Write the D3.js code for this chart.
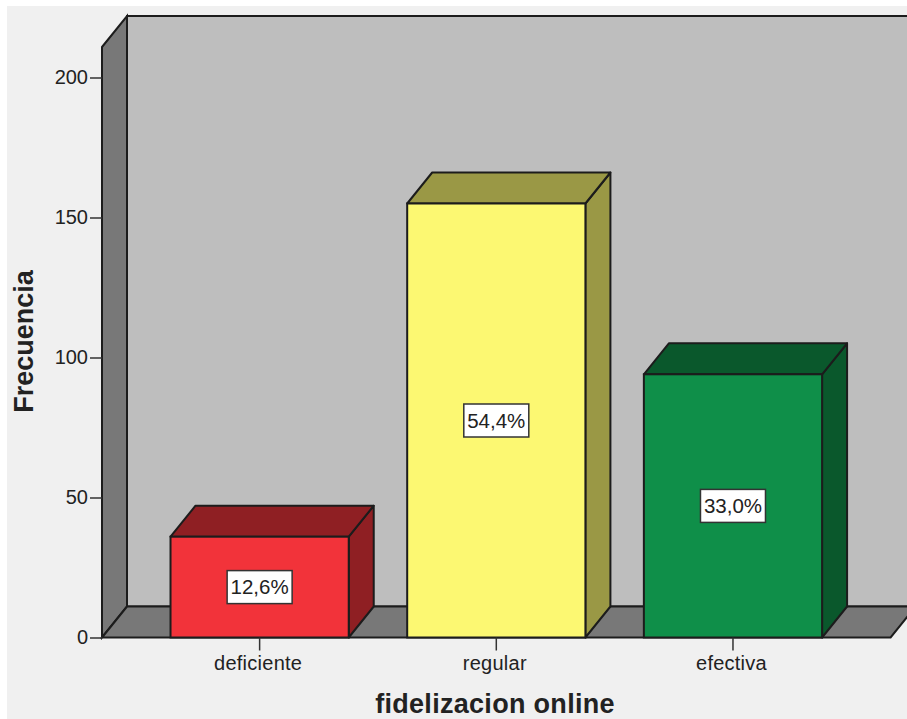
<!DOCTYPE html>
<html>
<head>
<meta charset="utf-8">
<title>fidelizacion online</title>
<script src="https://cdn.jsdelivr.net/npm/d3@7/dist/d3.min.js"></script>
<style>
  html, body { margin: 0; padding: 0; background: #fff; }
  svg { display: block; }
  text { font-family: "Liberation Sans", Arial, sans-serif; fill: #222; }
</style>
</head>
<body>
<svg id="chart" width="907" height="719"></svg>
<script>
// Frequency counts per category
const categories = ["deficiente", "regular", "efectiva"];
const frequencies = [36, 155, 94];
const frontColors = ["#f2333a", "#fcf872", "#0f8f49"];
const sideColors = ["#8f1f23", "#9a9845", "#0a582c"];
const yTicks = [0, 50, 100, 150, 200];
const xTitle = "fidelizacion online";
const yTitle = "Frecuencia";

const width = 907, height = 719;
const plot = { left: 102, right: 890.6, bottom: 637.5, top: 47 };
const depth = { x: 25, y: 31 };
const stroke = "#1c1c1c";

const svg = d3.select("#chart");
const total = d3.sum(frequencies);
const pct = v => d3.format(".1f")(v / total * 100).replace(".", ",") + "%";

const y = d3.scaleLinear().domain([0, 200]).range([plot.bottom, 77.5]);
const x = d3.scaleBand().domain(categories)
  .range([plot.left, plot.right])
  .paddingInner(0.247).paddingOuter(0.2895);

const poly = pts => "M" + pts.map(p => p.join(",")).join("L") + "Z";

// Panel background, inset from the page edge
svg.append("rect").attr("x", 7).attr("y", 6)
  .attr("width", width - 7).attr("height", height - 6).attr("fill", "#f0f0f0");

// Back wall
const backLeft = plot.left + depth.x;
const backBottom = plot.bottom - depth.y;
const backTop = plot.top - depth.y;
svg.append("rect").attr("x", backLeft).attr("y", backTop)
  .attr("width", width - backLeft + 10).attr("height", backBottom - backTop)
  .attr("fill", "#bebebe").attr("stroke", stroke).attr("stroke-width", 2);

// Left side wall
svg.append("path")
  .attr("d", poly([[plot.left, plot.top], [backLeft, backTop], [backLeft, backBottom], [plot.left, plot.bottom]]))
  .attr("fill", "#787878").attr("stroke", stroke).attr("stroke-width", 2);

// Floor
svg.append("path")
  .attr("d", poly([[plot.left, plot.bottom], [backLeft, backBottom],
                   [plot.right + depth.x, backBottom], [plot.right, plot.bottom]]))
  .attr("fill", "#787878").attr("stroke", stroke).attr("stroke-width", 2);

// Extruded bars: side, top, then front face
const bars = svg.append("g").selectAll("g").data(categories).join("g");
const barBox = (c, i) => ({
  l: x(c), r: x(c) + x.bandwidth(), t: y(frequencies[i]), b: y(0)
});

bars.append("path")
  .attr("d", (c, i) => { const b = barBox(c, i);
    return poly([[b.r, b.t], [b.r + depth.x, b.t - depth.y], [b.r + depth.x, b.b - depth.y], [b.r, b.b]]); })
  .attr("fill", (c, i) => sideColors[i]).attr("stroke", stroke).attr("stroke-width", 2).attr("stroke-linejoin", "round");

bars.append("path")
  .attr("d", (c, i) => { const b = barBox(c, i);
    return poly([[b.l, b.t], [b.l + depth.x, b.t - depth.y], [b.r + depth.x, b.t - depth.y], [b.r, b.t]]); })
  .attr("fill", (c, i) => sideColors[i]).attr("stroke", stroke).attr("stroke-width", 2).attr("stroke-linejoin", "round");

bars.append("rect")
  .attr("x", c => x(c)).attr("width", x.bandwidth())
  .attr("y", (c, i) => y(frequencies[i]))
  .attr("height", (c, i) => y(0) - y(frequencies[i]))
  .attr("fill", (c, i) => frontColors[i]).attr("stroke", stroke).attr("stroke-width", 2);

// Percentage labels in white boxes at each bar's middle
const labelW = 65, labelH = 33;
const cx = c => x(c) + x.bandwidth() / 2;
const cy = (c, i) => (y(frequencies[i]) + y(0)) / 2;
bars.append("rect")
  .attr("x", c => cx(c) - labelW / 2).attr("y", (c, i) => cy(c, i) - labelH / 2)
  .attr("width", labelW).attr("height", labelH)
  .attr("fill", "#fff").attr("stroke", "#333").attr("stroke-width", 1.5);
bars.append("text")
  .attr("x", cx).attr("y", cy)
  .attr("dy", "0.36em").attr("text-anchor", "middle")
  .attr("font-size", 20.5).text((c, i) => pct(frequencies[i]));

// Axes
const yAxis = d3.axisLeft(y).tickValues(yTicks).tickSize(12).tickPadding(2);
const yG = svg.append("g").attr("transform", `translate(${plot.left},0)`).call(yAxis);
const xAxis = d3.axisBottom(x).tickSize(13).tickPadding(5);
const xG = svg.append("g").attr("transform", `translate(0,${plot.bottom})`).call(xAxis);
[yG, xG].forEach(g => {
  g.select(".domain").remove();
  g.selectAll("line").attr("stroke", "#333").attr("stroke-width", 1.5);
  g.selectAll("text").attr("font-size", 20).attr("font-family", null).style("fill", "#222");
});
xG.selectAll("text").attr("dx", -1.5).attr("letter-spacing", 0.25);

// Axis titles
svg.append("text").attr("x", 495).attr("y", 713)
  .attr("text-anchor", "middle").attr("font-size", 27).attr("font-weight", "bold")
  .attr("letter-spacing", 0.3).text(xTitle);
svg.append("text").attr("transform", "translate(33,341.5) rotate(-90)")
  .attr("text-anchor", "middle").attr("font-size", 27).attr("font-weight", "bold")
  .text(yTitle);
</script>
</body>
</html>
